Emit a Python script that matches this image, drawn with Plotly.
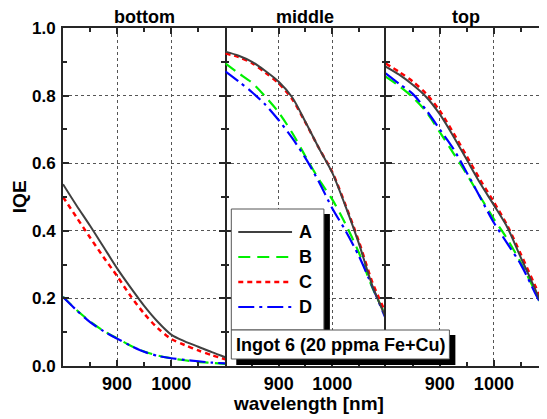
import plotly.graph_objects as go
from plotly.subplots import make_subplots

# wavelength grid [nm]
wavelength = [800, 825, 850, 875, 900, 925, 950, 975, 1000, 1025, 1050, 1075, 1100]

panels = ['bottom', 'middle', 'top']
series = ['A', 'B', 'C', 'D']

# IQE, one list per panel and series
bottom_A = [0.538, 0.475, 0.415, 0.352, 0.289, 0.232, 0.178, 0.131, 0.093, 0.073, 0.057, 0.041, 0.026]
bottom_B = [0.205, 0.166, 0.132, 0.104, 0.082, 0.060, 0.043, 0.031, 0.023, 0.017, 0.012, 0.009, 0.006]
bottom_C = [0.500, 0.440, 0.380, 0.322, 0.266, 0.207, 0.155, 0.112, 0.080, 0.062, 0.046, 0.032, 0.020]
bottom_D = [0.204, 0.165, 0.130, 0.103, 0.081, 0.060, 0.042, 0.030, 0.023, 0.018, 0.014, 0.010, 0.008]

middle_A = [0.930, 0.918, 0.900, 0.873, 0.841, 0.795, 0.722, 0.645, 0.572, 0.472, 0.362, 0.238, 0.145]
middle_B = [0.895, 0.866, 0.838, 0.797, 0.750, 0.690, 0.620, 0.552, 0.493, 0.420, 0.335, 0.232, 0.150]
middle_C = [0.925, 0.914, 0.896, 0.868, 0.836, 0.790, 0.720, 0.645, 0.574, 0.476, 0.368, 0.248, 0.158]
middle_D = [0.872, 0.842, 0.810, 0.773, 0.727, 0.675, 0.615, 0.545, 0.467, 0.400, 0.325, 0.235, 0.140]

top_A = [0.886, 0.862, 0.832, 0.796, 0.745, 0.680, 0.610, 0.540, 0.476, 0.410, 0.320, 0.232, 0.140]
top_B = [0.856, 0.828, 0.795, 0.752, 0.692, 0.630, 0.567, 0.500, 0.435, 0.375, 0.305, 0.225, 0.140]
top_C = [0.895, 0.870, 0.842, 0.805, 0.755, 0.690, 0.620, 0.550, 0.485, 0.415, 0.330, 0.242, 0.150]
top_D = [0.866, 0.835, 0.805, 0.757, 0.700, 0.643, 0.572, 0.498, 0.424, 0.362, 0.300, 0.220, 0.140]

x_ticks = [900, 1000]
x_minor = [850, 950, 1050]
y_ticks = [0.0, 0.2, 0.4, 0.6, 0.8, 1.0]
y_minor = [0.1, 0.3, 0.5, 0.7, 0.9]

note = 'Ingot 6 (20 ppma Fe+Cu)'

data = {
    'bottom': {'A': bottom_A, 'B': bottom_B, 'C': bottom_C, 'D': bottom_D},
    'middle': {'A': middle_A, 'B': middle_B, 'C': middle_C, 'D': middle_D},
    'top': {'A': top_A, 'B': top_B, 'C': top_C, 'D': top_D},
}

styles = {
    'A': dict(color='#404040', dash='solid', width=2),
    'B': dict(color='#00f000', dash='12px,7px', width=2.2),
    'C': dict(color='#ff0000', dash='5px,4px', width=2.5),
    'D': dict(color='#0000ff', dash='16px,5px,3px,5px', width=2.2),
}

FONT = 'Liberation Sans'
# the page body has an 8px margin, so the figure is made 8px smaller and
# everything below is laid out in window pixels of the 547x419 reference
OFF = 8
WIN_W, WIN_H = 547, 419
PLOT_L, PLOT_R, PLOT_T, PLOT_B = 63, 547, 28, 366
PANEL_EDGES = [63, 226, 387, 547]   # last panel runs past the window edge
PX_PER_NM = 163 / 300


def px_x(p):
    return (p - PLOT_L) / (PLOT_R - PLOT_L)


def px_y(p):
    return (PLOT_B - p) / (PLOT_B - PLOT_T)


def bold(size):
    return dict(family=FONT, size=size, color='black', weight='bold')


fig = make_subplots(rows=1, cols=3, shared_yaxes=True, horizontal_spacing=0)

for i, panel in enumerate(panels):
    for s in ['B', 'D', 'C', 'A']:
        fig.add_trace(go.Scatter(x=wavelength, y=data[panel][s], mode='lines', name=s,
                                 line=dict(shape='spline', smoothing=0.8, **styles[s]),
                                 showlegend=False), row=1, col=i + 1)

common = dict(linecolor='#262626', linewidth=2, mirror='ticks',
              ticks='inside', ticklen=6, tickwidth=1.5, tickcolor='#262626',
              showgrid=True, gridcolor='#555555', griddash='dot', gridwidth=1,
              zeroline=False)

fig.update_xaxes(tickmode='array', tickvals=x_ticks, showline=True, tickfont=bold(18),
                 minor=dict(tickmode='array', tickvals=x_minor, ticks='inside', ticklen=4,
                            tickcolor='#262626', showgrid=False),
                 **common)
for i in range(3):
    x0, x1 = PANEL_EDGES[i], PANEL_EDGES[i + 1]
    fig.update_xaxes(domain=[px_x(x0), px_x(x1)],
                     range=[800, 800 + (x1 - x0) / PX_PER_NM if i == 2 else 1100],
                     row=1, col=i + 1)

fig.update_yaxes(range=[0, 1], tickmode='array', tickvals=y_ticks, tickformat='.1f',
                 tickfont=bold(17), ticklabelstandoff=2,
                 minor=dict(tickmode='array', tickvals=y_minor, ticks='inside', ticklen=4,
                            tickcolor='#262626', showgrid=False),
                 **common)
# panel borders: avoid doubled lines where panels meet
fig.update_yaxes(showline=True, row=1, col=1)
fig.update_yaxes(showline=False, row=1, col=2)
fig.update_yaxes(showline=True, row=1, col=3)

annotations = []
for i, panel in enumerate(panels):
    cx = (PANEL_EDGES[i] + (PANEL_EDGES[i + 1] if i < 2 else 549)) / 2
    annotations.append(dict(text=panel, x=px_x(cx), y=px_y(16.5), xref='paper', yref='paper',
                            xanchor='center', yanchor='middle', showarrow=False, font=bold(18)))
annotations.append(dict(text='wavelength [nm]', x=px_x(310), y=px_y(403), xref='paper', yref='paper',
                        xanchor='center', yanchor='middle', showarrow=False, font=bold(19)))
annotations.append(dict(text='IQE', x=px_x(19), y=0.5, xref='paper', yref='paper', textangle=-90,
                        xanchor='center', yanchor='middle', showarrow=False, font=bold(19)))

shapes = []
# legend box with drop shadow
shapes.append(dict(type='rect', xref='paper', yref='paper', x0=px_x(237), x1=px_x(331),
                   y0=px_y(335), y1=px_y(214), fillcolor='black', line=dict(width=0)))
shapes.append(dict(type='rect', xref='paper', yref='paper', x0=px_x(232), x1=px_x(325),
                   y0=px_y(330), y1=px_y(209), fillcolor='white', line=dict(color='#555555', width=1)))
for k, s in enumerate(series):
    yy = px_y(232 + 25 * k)
    shapes.append(dict(type='line', xref='paper', yref='paper', x0=px_x(239), x1=px_x(293),
                       y0=yy, y1=yy, line=styles[s]))
    annotations.append(dict(text=s, x=px_x(298), y=yy, xref='paper', yref='paper',
                            xanchor='left', yanchor='middle', showarrow=False, font=bold(18)))
# note box with drop shadow
shapes.append(dict(type='rect', xref='paper', yref='paper', x0=px_x(237), x1=px_x(457),
                   y0=px_y(365), y1=px_y(335), fillcolor='black', line=dict(width=0)))
shapes.append(dict(type='rect', xref='paper', yref='paper', x0=px_x(232), x1=px_x(451),
                   y0=px_y(359), y1=px_y(330), fillcolor='white', line=dict(color='#555555', width=1)))
annotations.append(dict(text=note, x=px_x(235), y=px_y(345), xref='paper', yref='paper',
                        xanchor='left', yanchor='middle', showarrow=False, font=bold(18)))

fig.update_layout(width=WIN_W - OFF, height=WIN_H - OFF,
                  margin=dict(l=PLOT_L - OFF, r=WIN_W - PLOT_R, t=PLOT_T - OFF, b=WIN_H - PLOT_B),
                  plot_bgcolor='white', paper_bgcolor='white',
                  annotations=annotations, shapes=shapes, showlegend=False)

fig.write_html('out.html')
